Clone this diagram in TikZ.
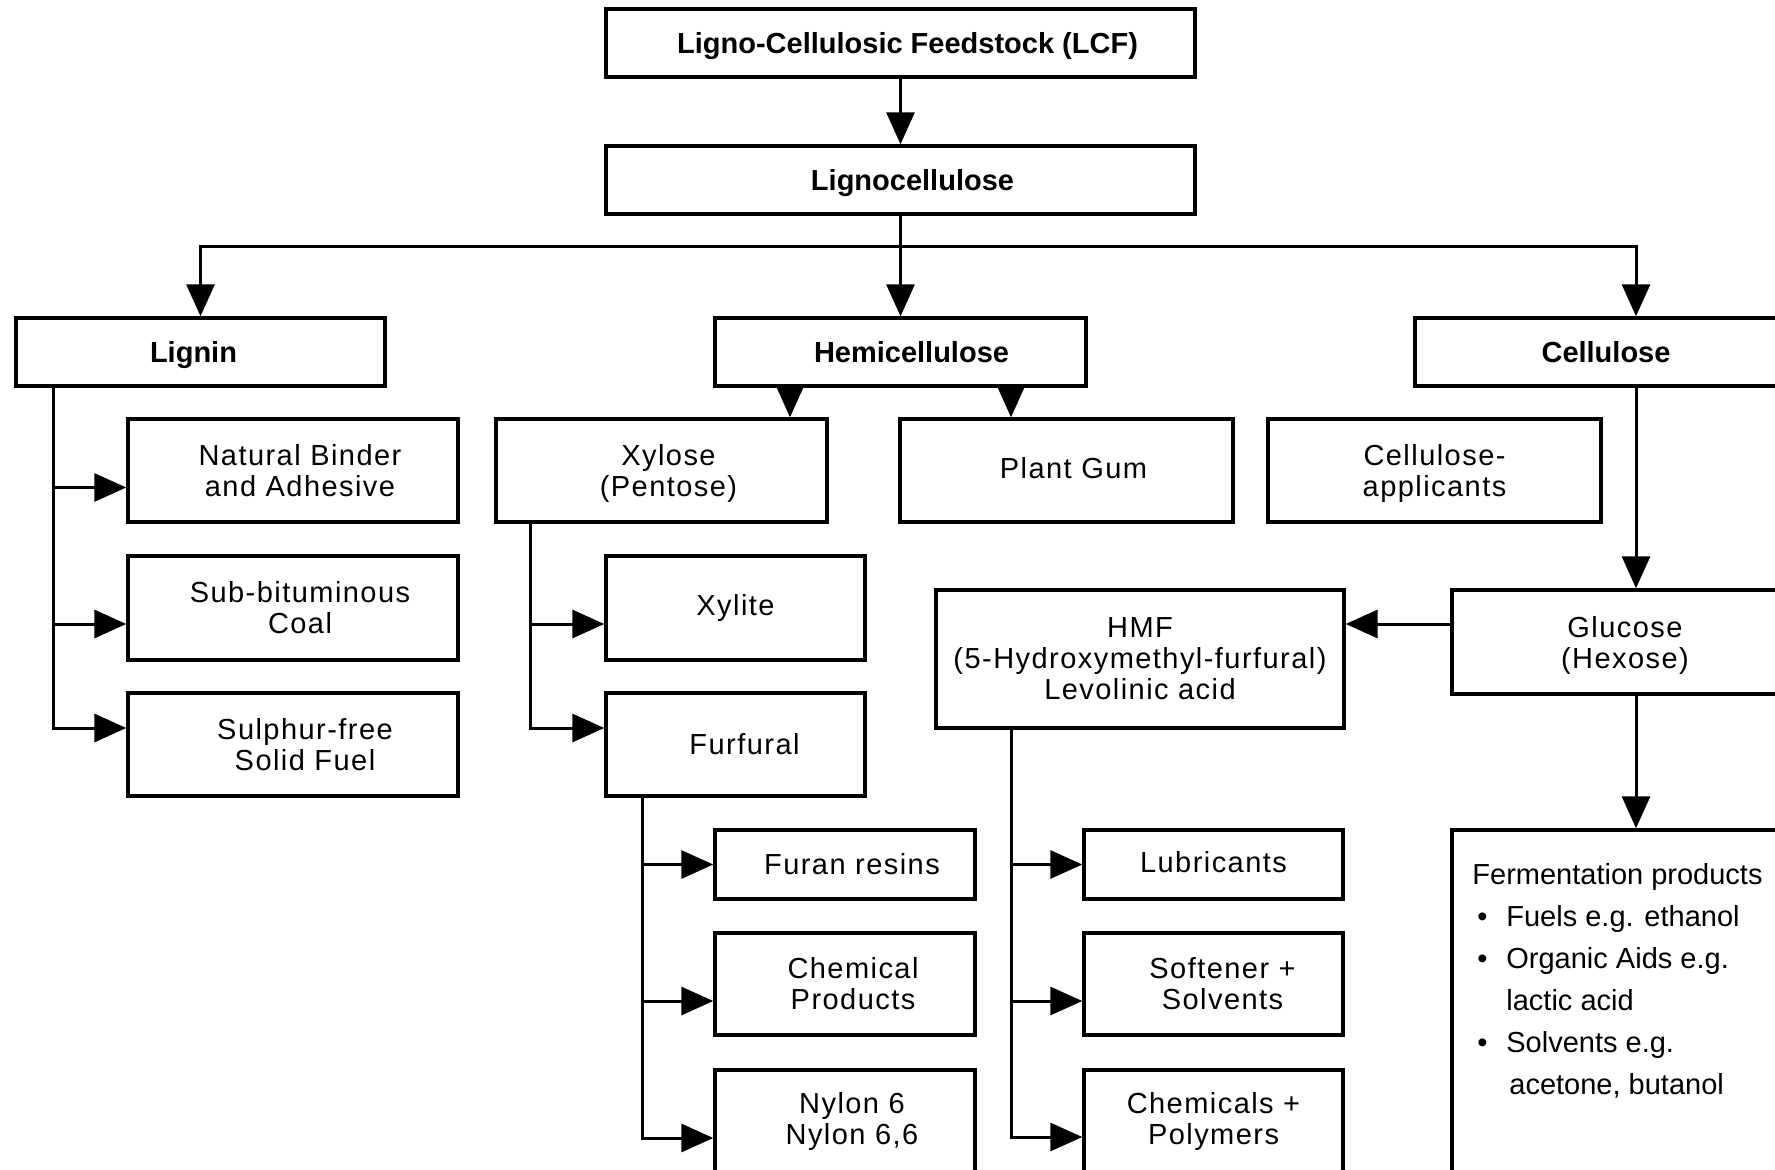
\documentclass[tikz,border=0pt]{standalone}
\usepackage{fontspec}
\setmainfont{Liberation Sans}
\newfontfamily\boxfont[LetterSpace=5]{Liberation Sans}
\usetikzlibrary{arrows.meta,calc}
\begin{document}
\begin{tikzpicture}[x=0.5pt,y=-0.5pt,
  box/.style={draw, line width=1.7pt, inner sep=0pt, align=center,
    font=\boxfont\fontsize{14.5}{15.5}\selectfont},
  title/.style={box, text depth=0pt, font=\fontsize{14.5}{15.5}\selectfont\bfseries},
  conn/.style={line width=1.5pt},
  arr/.style={conn, -{Triangle[length=16pt,width=14pt]}}]
\useasboundingbox (0,0) rectangle (1775,1170);
\clip (0,0) rectangle (1775,1170);

% top level
\node[title, minimum width=294.5pt, minimum height=34pt] (lcf) at (900.5,43) {\hspace*{7pt}Ligno-Cellulosic Feedstock (LCF)};
\node[title, minimum width=294.5pt, minimum height=34pt] (ligno) at (900.5,180) {\hspace*{12pt}Lignocellulose};
\node[title, minimum width=184.5pt, minimum height=34pt] (lignin) at (200.5,352) {\hspace*{-7pt}Lignin};
\node[title, minimum width=185.5pt, minimum height=34pt] (hemi) at (900.5,352) {\hspace*{11pt}Hemicellulose};
\node[title, minimum width=191pt, minimum height=34pt] (cellu) at (1606,352) {Cellulose};

% lignin products
\node[box, minimum width=165pt, minimum height=51.5pt] (binder) at (293,470.5) {\hspace*{7pt}Natural Binder\\\hspace*{7pt}and Adhesive};
\node[box, minimum width=165pt, minimum height=52pt] (coal) at (293,608) {\hspace*{7pt}Sub-bituminous\\\hspace*{7pt}Coal};
\node[box, minimum width=165pt, minimum height=51.5pt] (sfuel) at (293,744.5) {\hspace*{12pt}Sulphur-free\\\hspace*{12pt}Solid Fuel};

% hemicellulose products
\node[box, text depth=0pt, minimum width=165.5pt, minimum height=51.5pt] (xylose) at (661.5,470.5) {\hspace*{7pt}Xylose\\\hspace*{7pt}(Pentose)};
\node[box, text depth=3pt, minimum width=166.5pt, minimum height=51.5pt] (gum) at (1066.5,470.5) {\hspace*{7pt}Plant Gum};
\node[box, text depth=0pt, minimum width=166.5pt, minimum height=51.5pt] (capp) at (1434.5,470.5) {Cellulose-\\applicants};
\node[box, minimum width=129.5pt, minimum height=52pt] (xylite) at (735.5,608) {Xylite};
\node[box, minimum width=129.5pt, minimum height=51.5pt] (furfural) at (735.5,744.5) {\hspace*{9pt}Furfural};
\node[box, minimum width=130pt, minimum height=34.5pt] (furan) at (845,864.5) {\hspace*{7pt}Furan resins};
\node[box, minimum width=130pt, minimum height=51pt] (chemprod) at (845,984) {\hspace*{8pt}Chemical\\\hspace*{8pt}Products};
\node[box, minimum width=130pt, minimum height=51pt] (nylon) at (845,1121) {\hspace*{7pt}Nylon 6\\\hspace*{7pt}Nylon 6,6};

% cellulose products
\node[box, minimum width=204pt, minimum height=69pt] (hmf) at (1140,659) {HMF\\(5-Hydroxymethyl-furfural)\\Levolinic acid};
\node[box, text depth=0pt, minimum width=173pt, minimum height=52pt] (glucose) at (1625,642) {Glucose\\(Hexose)};
\node[box, text depth=2.5pt, minimum width=129.5pt, minimum height=34.5pt] (lubr) at (1213.5,864.5) {Lubricants};
\node[box, minimum width=129.5pt, minimum height=51pt] (soft) at (1213.5,984) {\hspace*{9pt}Softener +\\\hspace*{9pt}Solvents};
\node[box, minimum width=129.5pt, minimum height=51pt] (chempoly) at (1213.5,1121) {Chemicals +\\Polymers};
\node[box, minimum width=173pt, minimum height=180pt] (ferm) at (1625,1010) {};
\node[anchor=north west, inner sep=0pt, align=left, font=\fontsize{14.5}{21}\selectfont] (fermtext) at (1472,863)
  {Fermentation products\\
   \hspace*{2.5pt}\makebox[14.5pt][l]{•}Fuels e.g. ethanol\\
   \hspace*{2.5pt}\makebox[14.5pt][l]{•}Organic Aids e.g.\\
   \hspace*{17pt}lactic acid\\
   \hspace*{2.5pt}\makebox[14.5pt][l]{•}Solvents e.g.\\
   \hspace*{18.5pt}acetone, butanol};

% helper coordinates
\coordinate (bar) at (900.5,247);
\coordinate (cx) at (1636,0);
\coordinate (lx) at (53,0);
\coordinate (xx) at (530,0);
\coordinate (fx) at (642,0);
\coordinate (hx) at (1011,0);
\coordinate (h1) at (790,0);
\coordinate (h2) at (1011,0);

% top connectors
\draw[arr] (lcf) -- (ligno);
\draw[conn] (ligno.south) -- (bar);
\draw[arr] (bar) -| (lignin.north);
\draw[arr] (bar) -- (hemi.north);
\draw[arr] (bar) -| (cx |- cellu.north);

% lignin branch
\coordinate (a1) at ([yshift=-8.5pt]binder.west);
\coordinate (a2) at ([yshift=-8pt]coal.west);
\coordinate (a3) at ([yshift=8.25pt]sfuel.west);
\draw[arr] (lx |- lignin.south) |- (a3);
\draw[arr] (lx |- a1) -- (a1);
\draw[arr] (lx |- a2) -- (a2);

% hemicellulose branch
\draw[arr] (h1 |- hemi.south) -- (h1 |- xylose.north);
\draw[arr] (h2 |- hemi.south) -- (h2 |- gum.north);
\coordinate (b1) at ([yshift=-8pt]xylite.west);
\coordinate (b2) at ([yshift=8.25pt]furfural.west);
\draw[arr] (xx |- xylose.south) |- (b2);
\draw[arr] (xx |- b1) -- (b1);
\coordinate (c1) at (furan.west);
\coordinate (c2) at ([yshift=-8.5pt]chemprod.west);
\coordinate (c3) at ([yshift=-8.5pt]nylon.west);
\draw[arr] (fx |- furfural.south) |- (c3);
\draw[arr] (fx |- c1) -- (c1);
\draw[arr] (fx |- c2) -- (c2);

% cellulose branch
\draw[arr] (cx |- cellu.south) -- (cx |- glucose.north);
\coordinate (g1) at ([yshift=9pt]glucose.west);
\draw[arr] (g1) -- (hmf.east |- g1);
\draw[arr] (cx |- glucose.south) -- (cx |- ferm.north);
\coordinate (d1) at (lubr.west);
\coordinate (d2) at ([yshift=-8.5pt]soft.west);
\coordinate (d3) at ([yshift=-8pt]chempoly.west);
\draw[arr] (hx |- hmf.south) |- (d3);
\draw[arr] (hx |- d1) -- (d1);
\draw[arr] (hx |- d2) -- (d2);
\end{tikzpicture}
\end{document}
